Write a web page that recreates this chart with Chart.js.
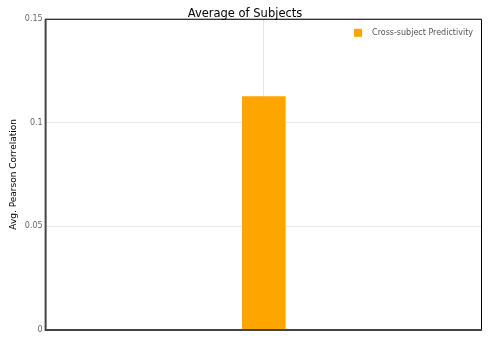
<!DOCTYPE html>
<html><head><meta charset="utf-8">
<script src="https://cdn.jsdelivr.net/npm/chart.js@4/dist/chart.umd.min.js"></script>
<style>html,body{margin:0;padding:0;background:#fff}#w{width:489px;height:349px}</style>
</head><body><div id="w"><canvas id="c"></canvas></div>
<script>
const categories = ["Average"];
const seriesName = "Cross-subject Predictivity";
const predictivity = [0.1127];
const yTicks = [0, 0.05, 0.1, 0.15];
const chartTitle = "Average of Subjects";
const yAxisTitle = "Avg. Pearson Correlation";

const FONT = 'Verdana, "DejaVu Sans", sans-serif';

const frame = {
  id: 'frame',
  afterDatasetsDraw(chart) {
    const {ctx, chartArea: a} = chart;
    ctx.save();
    ctx.strokeStyle = '#000';
    ctx.lineWidth = 1;
    ctx.beginPath();
    ctx.moveTo(a.left, a.top + 0.5);
    ctx.lineTo(a.right - 0.5, a.top + 0.5);
    ctx.lineTo(a.right - 0.5, a.bottom);
    ctx.stroke();
    ctx.strokeStyle = '#444';
    ctx.lineWidth = 2;
    ctx.beginPath();
    ctx.moveTo(a.left, a.top);
    ctx.lineTo(a.left, a.bottom);
    ctx.lineTo(a.right, a.bottom);
    ctx.stroke();
    // legend inside chart area, top-right
    const ds = chart.data.datasets[0];
    ctx.font = '8px ' + FONT;
    ctx.textBaseline = 'middle';
    ctx.textAlign = 'right';
    const tx = a.right - 9, ty = a.top + 14;
    ctx.fillStyle = '#555';
    ctx.fillText(ds.label, tx, ty);
    const w = ctx.measureText(ds.label).width;
    ctx.fillStyle = ds.backgroundColor;
    ctx.fillRect(tx - w - 18, ty - 4, 8, 8);
    ctx.restore();
  }
};

new Chart(document.getElementById('c'), {
  type: 'bar',
  data: {
    labels: categories,
    datasets: [{
      label: seriesName,
      data: predictivity,
      backgroundColor: '#FFA500',
      borderWidth: 0,
      barPercentage: 0.1,
      categoryPercentage: 1
    }]
  },
  options: {
    responsive: true,
    maintainAspectRatio: false,
    animation: false,
    layout: {padding: {left: 8, right: 7, top: 0, bottom: 19}},
    plugins: {
      title: {display: true, text: chartTitle, color: '#000', font: {family: FONT, size: 11.5, weight: 'normal'}, padding: {top: 7, bottom: -2}},
      legend: {display: false},
      tooltip: {enabled: false}
    },
    scales: {
      x: {
        grid: {offset: false, color: '#e6e6e6', drawTicks: false},
        border: {display: false},
        ticks: {display: false}
      },
      y: {
        min: 0, max: 0.15,
        afterBuildTicks(s) { s.ticks = yTicks.map(v => ({value: v})); },
        grid: {color: '#e6e6e6', drawTicks: false},
        border: {display: false},
        ticks: {color: '#666', font: {family: FONT, size: 8}, padding: 3, callback: v => String(v)},
        title: {display: true, text: yAxisTitle, color: '#000', font: {family: FONT, size: 9}, padding: {top: 0, bottom: 3}}
      }
    }
  },
  plugins: [frame]
});
</script></body></html>
